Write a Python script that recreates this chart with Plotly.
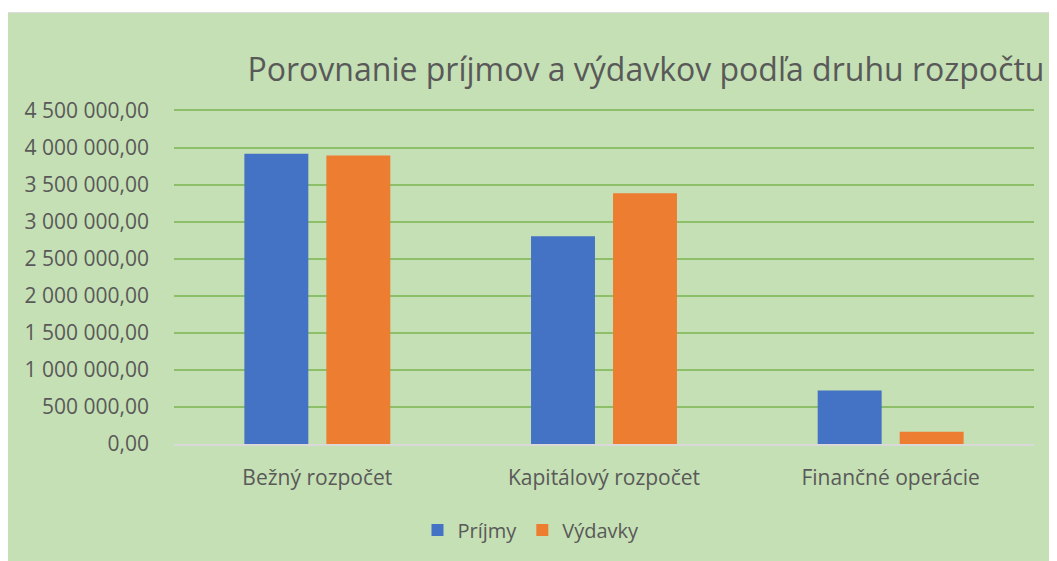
import plotly.graph_objects as go

categories = ["Bežný rozpočet", "Kapitálový rozpočet", "Finančné operácie"]
prijmy = [3917000, 2802000, 723000]
vydavky = [3894000, 3382000, 166000]
series_names = ["Príjmy", "Výdavky"]
tick_vals = [0, 500000, 1000000, 1500000, 2000000, 2500000, 3000000, 3500000, 4000000, 4500000]
tick_text = ["0,00", "500 000,00", "1 000 000,00", "1 500 000,00", "2 000 000,00",
             "2 500 000,00", "3 000 000,00", "3 500 000,00", "4 000 000,00", "4 500 000,00"]

OFF = 8  # browser body margin
W, H = 1057, 561
Y_TOP = 4520000
# page-pixel geometry of the plot area (reference)
plot_left, plot_right, zero_y, top_y = 174, 1034, 444, 110
ph = (zero_y - top_y) * Y_TOP / 4500000
L = plot_left - OFF
R = W - (plot_right - OFF)
B = H - (zero_y - OFF)
T = (zero_y - OFF) - ph
pw = plot_right - plot_left

def px(x):
    return (x - plot_left) / pw

def py(y):
    return (zero_y - y) / ph

FONT = "Open Sans"
GREY = "#595959"

fig = go.Figure()
fig.add_trace(go.Bar(name=series_names[0], x=categories, y=prijmy, marker=dict(color="#4472c4", line=dict(width=0))))
fig.add_trace(go.Bar(name=series_names[1], x=categories, y=vydavky, marker=dict(color="#ed7d31", line=dict(width=0))))

fig.update_layout(
    width=W, height=H,
    margin=dict(l=L, r=R, t=T, b=B, pad=0),
    paper_bgcolor="white",
    plot_bgcolor="rgba(0,0,0,0)",
    barmode="group",
    bargap=0.428,
    bargroupgap=0.22,
    font=dict(family=FONT, color=GREY),
    title=dict(text="Porovnanie príjmov a výdavkov podľa druhu rozpočtu",
               x=px(646), xref="paper", xanchor="center",
               y=1 - (70 - OFF) / H, yref="container", yanchor="middle",
               font=dict(size=32, color=GREY, family=FONT)),
    showlegend=True,
    legend=dict(orientation="h", x=px(531), xanchor="center", y=py(530), yanchor="middle",
                font=dict(size=20, color=GREY), bgcolor="rgba(0,0,0,0)",
                itemwidth=30, traceorder="normal"),
    shapes=[dict(type="rect", xref="paper", yref="paper",
                 x0=px(7), x1=px(1057 + 20), y0=py(561 + 20), y1=py(12),
                 fillcolor="#c5e0b4", line=dict(color="#d9d9d9", width=1), layer="below")],
)
fig.update_yaxes(range=[0, Y_TOP], tickvals=tick_vals, ticktext=tick_text,
                 showgrid=True, gridcolor="#8cbf68", gridwidth=1.5,
                 zeroline=False, showline=False, ticks="",
                 ticklabelstandoff=24,
                 tickfont=dict(size=21, color=GREY, family=FONT))
fig.update_xaxes(showline=True, linecolor="#d9d9d9", linewidth=1.5, ticks="",
                 ticklabelstandoff=14,
                 tickfont=dict(size=21, color=GREY, family=FONT))

fig.write_html("out.html")
